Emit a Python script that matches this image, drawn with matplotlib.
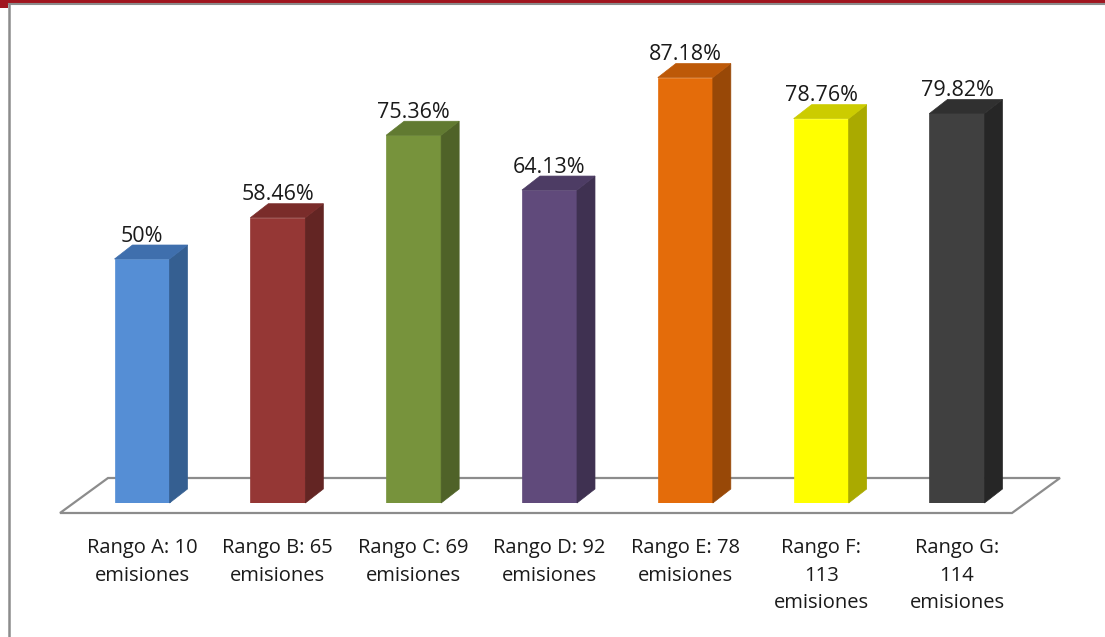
import matplotlib
matplotlib.use("Agg")
import matplotlib.pyplot as plt
from matplotlib.patches import Polygon, Rectangle
from matplotlib.lines import Line2D

categories = ["Rango A: 10\nemisiones", "Rango B: 65\nemisiones", "Rango C: 69\nemisiones",
              "Rango D: 92\nemisiones", "Rango E: 78\nemisiones", "Rango F:\n113\nemisiones",
              "Rango G:\n114\nemisiones"]
values = [50.0, 58.46, 75.36, 64.13, 87.18, 78.76, 79.82]
value_labels = ["50%", "58.46%", "75.36%", "64.13%", "87.18%", "78.76%", "79.82%"]
front_colors = ["#558ED5", "#953735", "#77933C", "#604A7B", "#E46C0A", "#FFFF00", "#404040"]
side_colors = ["#355F91", "#632523", "#4F6228", "#3F3151", "#984807", "#AAAA00", "#262626"]
top_colors = ["#3F6FAD", "#7A2C2A", "#617A31", "#4D3C64", "#BD5908", "#CCCC00", "#303030"]

W, H = 1105, 637
fig = plt.figure(figsize=(W / 100, H / 100), dpi=100)
fig.patch.set_facecolor("white")

px_bottom, px_top = 503, 15
c0, spacing = 142, 135.83
ax = fig.add_axes([0, (H - px_bottom) / H, 1, (px_bottom - px_top) / H])
ax.set_xlim((0 - c0) / spacing, (W - c0) / spacing)
ax.set_ylim(0, 100)
for s in ax.spines.values():
    s.set_visible(False)
ax.yaxis.set_visible(False)

ppu = (px_bottom - px_top) / 100.0
bw = 55 / spacing
ddx = 18 / spacing
ddy = 14 / ppu

x = list(range(len(values)))

# floor
fdx_back = 48 / spacing
floor_front_y = -10 / ppu
floor_back_y = 25 / ppu
fl = (60 - c0) / spacing
fr = (1012 - c0) / spacing
floor = Polygon([(fl, floor_front_y), (fr, floor_front_y), (fr + fdx_back, floor_back_y),
                 (fl + fdx_back, floor_back_y)], closed=True, facecolor="white",
                edgecolor="#8C8C8C", lw=1.6, clip_on=False, zorder=1)
ax.add_patch(floor)

bars = ax.bar(x, values, width=bw, color=front_colors, zorder=3,
              edgecolor=front_colors, linewidth=0.5)
for i, (xi, v) in enumerate(zip(x, values)):
    r = xi + bw / 2
    l = xi - bw / 2
    side = Polygon([(r, 0), (r + ddx, ddy), (r + ddx, v + ddy), (r, v)], closed=True,
                   facecolor=side_colors[i], edgecolor=side_colors[i], lw=0.5,
                   zorder=3, clip_on=False)
    top = Polygon([(l, v), (r, v), (r + ddx, v + ddy), (l + ddx, v + ddy)], closed=True,
                  facecolor=top_colors[i], edgecolor=top_colors[i], lw=0.5,
                  zorder=3, clip_on=False)
    ax.add_patch(side)
    ax.add_patch(top)
    ax.text(xi, v + ddy - 0.35, value_labels[i], ha="center", va="bottom",
            fontsize=15.5, family="Open Sans", color="#1a1a1a", zorder=4)

ax.set_xticks(x)
ax.set_xticklabels(categories, fontsize=14.5, family="Open Sans", color="#1a1a1a",
                   linespacing=1.52)
ax.tick_params(axis="x", length=0, pad=25)

# frame decorations
fig.add_artist(Rectangle((0, 1 - 3 / H), 1, 3 / H, transform=fig.transFigure,
                         facecolor="#A0151F", edgecolor="none"))
fig.add_artist(Rectangle((0, 1 - 8 / H), 8 / W, 8 / H, transform=fig.transFigure,
                         facecolor="#A0151F", edgecolor="none"))
fig.add_artist(Line2D([8.5 / W, 1], [1 - 4 / H, 1 - 4 / H], transform=fig.transFigure,
                      color="#8C8C8C", lw=1.5))
fig.add_artist(Line2D([8.5 / W, 8.5 / W], [0, 1 - 4 / H], transform=fig.transFigure,
                      color="#8C8C8C", lw=1.8))

fig.savefig("out.png", dpi=100, facecolor="white")
